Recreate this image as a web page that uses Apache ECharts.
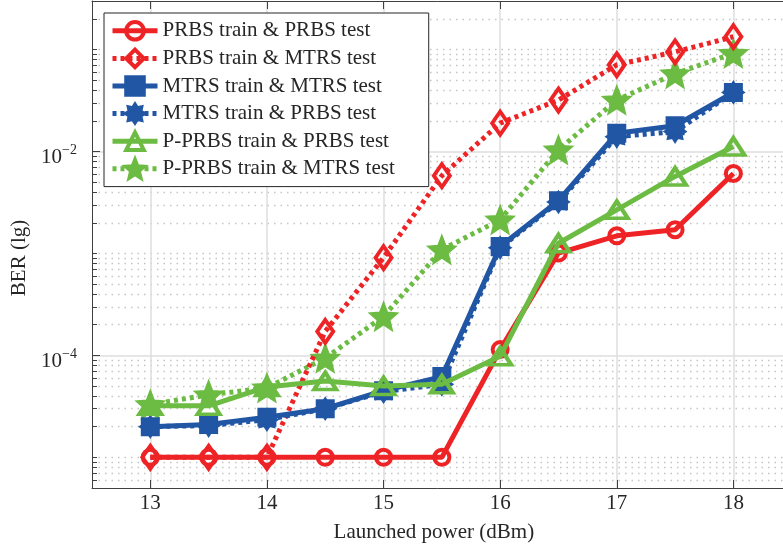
<!DOCTYPE html>
<html>
<head>
<meta charset="utf-8">
<script src="https://cdn.jsdelivr.net/npm/echarts@6/dist/echarts.min.js"></script>
<style>
html,body{margin:0;padding:0;background:#fff;}
#chart{width:783px;height:554px;}
</style>
</head>
<body>
<div id="chart"></div>
<script>
// ---- data ----
const xValues = [13, 13.5, 14, 14.5, 15, 15.5, 16, 16.5, 17, 17.5, 18];
const xTicks = [13, 14, 15, 16, 17, 18];

const prbsTrainPrbsTest  = [1.0e-5, 1.0e-5, 1.0e-5, 1.0e-5, 1.0e-5, 1.0e-5, 1.14e-4, 1.01e-3, 1.49e-3, 1.71e-3, 6.1e-3];
const prbsTrainMtrsTest  = [1.0e-5, 1.0e-5, 1.0e-5, 1.72e-4, 9.1e-4, 5.8e-3, 1.9e-2, 3.2e-2, 7.1e-2, 9.5e-2, 1.34e-1];
const mtrsTrainMtrsTest  = [2.0e-5, 2.1e-5, 2.47e-5, 3.0e-5, 4.5e-5, 6.2e-5, 1.17e-3, 3.3e-3, 1.51e-2, 1.79e-2, 3.8e-2];
const mtrsTrainPrbsTest  = [2.0e-5, 2.05e-5, 2.34e-5, 3.0e-5, 4.4e-5, 5.2e-5, 1.14e-3, 3.2e-3, 1.40e-2, 1.57e-2, 3.8e-2];
const pprbsTrainPrbsTest = [3.2e-5, 3.2e-5, 4.9e-5, 5.6e-5, 5.0e-5, 5.2e-5, 9.8e-5, 1.26e-3, 2.68e-3, 5.7e-3, 1.12e-2];
const pprbsTrainMtrsTest = [3.3e-5, 4.1e-5, 4.8e-5, 9.4e-5, 2.41e-4, 1.09e-3, 2.14e-3, 1.04e-2, 3.2e-2, 5.8e-2, 9.2e-2];

const seriesNames = [
  'PRBS train & PRBS test',
  'PRBS train & MTRS test',
  'MTRS train & MTRS test',
  'MTRS train & PRBS test',
  'P-PRBS train & PRBS test',
  'P-PRBS train & MTRS test'
];

const yMajorTicks = [1e-4, 1e-2];
const yMinorTicks = [
  6e-6, 7e-6, 8e-6, 9e-6,
  1e-5, 2e-5, 3e-5, 4e-5, 5e-5, 6e-5, 7e-5, 8e-5, 9e-5,
  2e-4, 3e-4, 4e-4, 5e-4, 6e-4, 7e-4, 8e-4, 9e-4,
  1e-3, 2e-3, 3e-3, 4e-3, 5e-3, 6e-3, 7e-3, 8e-3, 9e-3,
  2e-2, 3e-2, 4e-2, 5e-2, 6e-2, 7e-2, 8e-2, 9e-2,
  1e-1, 2e-1
];
const yMin = 5e-6, yMax = 0.3;
const xMin = 12.5, xMax = 18.5;

// ---- styles ----
const RED = '#EE2326', BLUE = '#2156A5', GREEN = '#6CBB43';
const TXT = '#262626', AX = '#404040';
const FONT = 'Liberation Serif';
const STAR = 'path://M50 0 L62.93 32.2 L97.55 34.55 L70.92 56.8 L79.39 90.45 L50 72 L20.61 90.45 L29.08 56.8 L2.45 34.55 L37.07 32.2 Z';
const ASTER = 'path://M100 50 L80.5 62.6 L85.36 85.36 L62.6 80.5 L50 100 L37.4 80.5 L14.64 85.36 L19.5 62.6 L0 50 L19.5 37.4 L14.64 14.64 L37.4 19.5 L50 0 L62.6 19.5 L85.36 14.64 L80.5 37.4 Z';

function makeSeries(name, values, color, dotted, symbol, size, filled, z) {
  return {
    name: name,
    type: 'line',
    xAxisIndex: 0,
    yAxisIndex: 0,
    data: xValues.map((x, i) => [x, values[i]]),
    symbol: symbol,
    symbolSize: size,
    showSymbol: true,
    z: z,
    lineStyle: { color: color, width: 5, type: dotted ? [4, 4] : 'solid', cap: 'butt' },
    itemStyle: { color: filled ? color : 'transparent', borderColor: color, borderWidth: filled ? 2 : 4 },
    emphasis: { disabled: true }
  };
}

const chart = echarts.init(document.getElementById('chart'), null, { renderer: 'canvas' });
const option = {
  animation: false,
  backgroundColor: '#fff',
  textStyle: { fontFamily: FONT },
  grid: { left: 92, top: 1, right: -8.7, bottom: 66, outerBoundsMode: 'none', containLabel: false },
  legend: {
    data: seriesNames,
    orient: 'vertical',
    left: 104, top: 13,
    itemWidth: 45, itemHeight: 22, itemGap: 6,
    padding: [7, 34, 7, 6],
    borderColor: TXT, borderWidth: 1,
    backgroundColor: '#fff',
    itemStyle: { borderWidth: 4 },
    lineStyle: { width: 5 },
    textStyle: { fontSize: 21, color: TXT, fontFamily: FONT },
    selectedMode: false
  },
  xAxis: [
    {
      type: 'value', min: xMin, max: xMax, position: 'bottom',
      axisLine: { show: true, onZero: false, lineStyle: { color: AX, width: 1 } },
      axisTick: { show: true, inside: true, length: 8, customValues: xTicks, lineStyle: { color: AX } },
      axisLabel: { customValues: xTicks, margin: 5, fontSize: 21, color: TXT, fontFamily: FONT },
      splitLine: { show: true, lineStyle: { color: '#dedede', width: 1.5 } },
      name: 'Launched power (dBm)', nameLocation: 'middle', nameGap: 34,
      nameTextStyle: { fontSize: 21, color: TXT, fontFamily: FONT, padding: [0, 16, 0, 0] }
    },
    {
      type: 'value', min: xMin, max: xMax, position: 'top',
      axisLine: { show: true, onZero: false, lineStyle: { color: AX, width: 1 } },
      axisTick: { show: true, inside: true, length: 8, customValues: xTicks, lineStyle: { color: AX } },
      axisLabel: { show: false },
      splitLine: { show: false }
    }
  ],
  yAxis: [
    {
      type: 'log', logBase: 10, min: yMin, max: yMax, position: 'left',
      axisLine: { show: true, onZero: false, lineStyle: { color: AX, width: 1 } },
      axisTick: { show: true, inside: true, length: 8, customValues: yMajorTicks, lineStyle: { color: AX } },
      axisLabel: {
        customValues: yMajorTicks, margin: 15, color: TXT, padding: [8, 0, 0, 0],
        formatter: function (v) {
          const e = Math.round(Math.log10(v));
          return '{b|10}{s|\u2212' + (-e) + '}';
        },
        rich: {
          b: { fontSize: 21, lineHeight: 25, fontFamily: FONT, color: TXT, verticalAlign: 'bottom' },
          s: { fontSize: 14, lineHeight: 14, fontFamily: FONT, color: TXT, verticalAlign: 'top' }
        }
      },
      splitLine: { show: true, lineStyle: { color: '#dedede', width: 1.5 } },
      name: 'BER (lg)', nameLocation: 'middle', nameGap: 53,
      nameTextStyle: { fontSize: 21, color: TXT, fontFamily: FONT, padding: [0, 27, 0, 0] }
    },
    {
      type: 'log', logBase: 10, min: yMin, max: yMax, position: 'left',
      axisLine: { show: false },
      axisTick: { show: true, inside: true, length: 5, customValues: yMinorTicks, lineStyle: { color: AX } },
      axisLabel: { show: false },
      splitLine: { show: true, lineStyle: { color: '#c4c4c4', width: 1.4, type: [1.5, 5] } }
    }
  ],
  series: [
    makeSeries(seriesNames[5], pprbsTrainMtrsTest, GREEN, true, STAR, 27, true, 2),
    makeSeries(seriesNames[1], prbsTrainMtrsTest, RED, true, 'diamond', [16, 23], false, 3),
    makeSeries(seriesNames[3], mtrsTrainPrbsTest, BLUE, true, ASTER, 21, true, 4),
    makeSeries(seriesNames[2], mtrsTrainMtrsTest, BLUE, false, 'rect', 17, true, 5),
    makeSeries(seriesNames[0], prbsTrainPrbsTest, RED, false, 'circle', 15, false, 6),
    makeSeries(seriesNames[4], pprbsTrainPrbsTest, GREEN, false, 'triangle', [22, 17], false, 7)
  ]
};
chart.setOption(option);
</script>
</body>
</html>
